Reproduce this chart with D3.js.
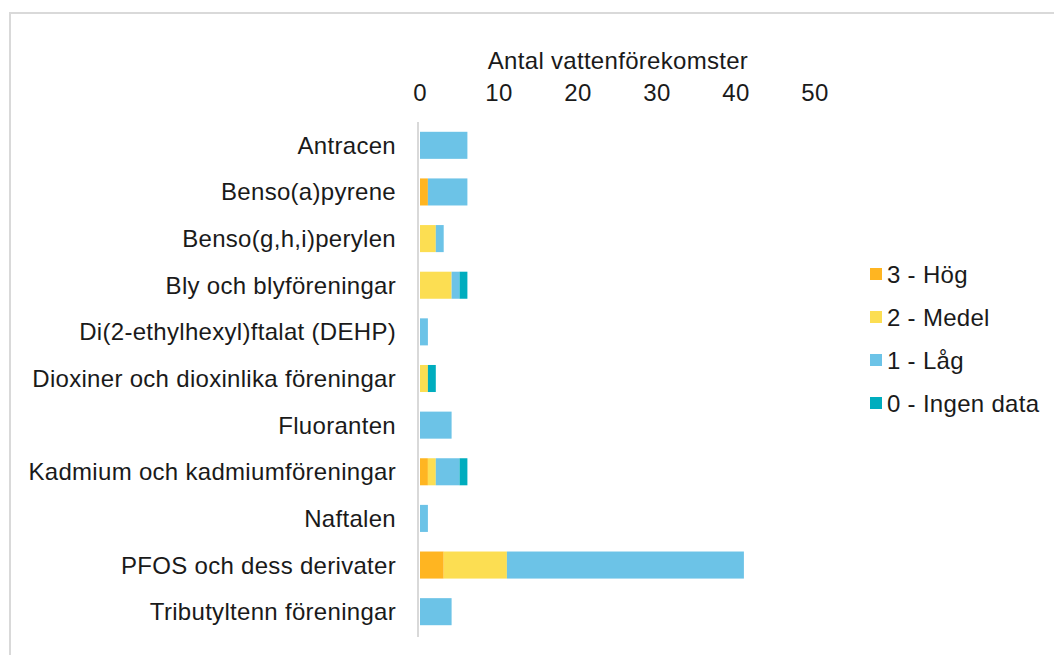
<!DOCTYPE html>
<html>
<head>
<meta charset="utf-8">
<script src="https://cdn.jsdelivr.net/npm/d3@7"></script>
<style>
  body { margin: 0; background: #fff; }
  text { font-family: "Liberation Sans", Arial, sans-serif; fill: #1a1a1a; font-size: 24px; letter-spacing: 0.3px; }
</style>
</head>
<body>
<script>
// kategorier (uppifrån och ned)
var categories = [
  "Antracen",
  "Benso(a)pyrene",
  "Benso(g,h,i)perylen",
  "Bly och blyföreningar",
  "Di(2-ethylhexyl)ftalat (DEHP)",
  "Dioxiner och dioxinlika föreningar",
  "Fluoranten",
  "Kadmium och kadmiumföreningar",
  "Naftalen",
  "PFOS och dess derivater",
  "Tributyltenn föreningar"
];

var seriesNames = ["3 - Hög", "2 - Medel", "1 - Låg", "0 - Ingen data"];
var seriesColors = ["#FFB521", "#FCDE52", "#6CC3E7", "#00ADBE"];

var hog    = [0, 1, 0, 0, 0, 0, 0, 1, 0, 3, 0];
var medel  = [0, 0, 2, 4, 0, 1, 0, 1, 0, 8, 0];
var lag    = [6, 5, 1, 1, 1, 0, 4, 3, 1, 30, 4];
var ingen  = [0, 0, 0, 1, 0, 1, 0, 1, 0, 0, 0];

var xTicks = [0, 10, 20, 30, 40, 50];

var width = 1054, height = 655;

var svg = d3.select("body").append("svg")
  .attr("width", width)
  .attr("height", height);

// ram
svg.append("rect")
  .attr("x", 10).attr("y", 13)
  .attr("width", 1100).attr("height", 700)
  .attr("fill", "none")
  .attr("stroke", "#d9d9d9")
  .attr("stroke-width", 2);

var x = d3.scaleLinear().domain([0, 50]).range([420, 815]);
var y = d3.scaleBand().domain(categories).range([122, 635]).paddingInner(0.42).paddingOuter(0.21);

// stacka data
var table = categories.map(function(c, i) {
  return { name: c, s0: hog[i], s1: medel[i], s2: lag[i], s3: ingen[i] };
});
var stack = d3.stack().keys(["s0", "s1", "s2", "s3"]);
var layers = stack(table);

svg.selectAll("g.layer")
  .data(layers)
  .enter().append("g")
  .attr("class", "layer")
  .attr("fill", function(d, i) { return seriesColors[i]; })
  .selectAll("rect")
  .data(function(d) { return d; })
  .enter().append("rect")
  .filter(function(d) { return d[1] - d[0] > 0; })
  .attr("x", function(d) { return x(d[0]); })
  .attr("width", function(d) { return x(d[1]) - x(d[0]); })
  .attr("y", function(d) { return y(d.data.name); })
  .attr("height", y.bandwidth());

// axellinje
svg.append("line")
  .attr("x1", 418).attr("x2", 418)
  .attr("y1", 122).attr("y2", 637)
  .attr("stroke", "#d9d9d9")
  .attr("stroke-width", 2);

// tick-etiketter
svg.selectAll("text.tick")
  .data(xTicks)
  .enter().append("text")
  .attr("class", "tick")
  .attr("x", function(d) { return x(d); })
  .attr("y", 101)
  .attr("text-anchor", "middle")
  .text(function(d) { return d; });

svg.append("text")
  .attr("x", 618).attr("y", 69)
  .attr("text-anchor", "middle")
  .text("Antal vattenförekomster");

// kategorietiketter
svg.selectAll("text.cat")
  .data(categories)
  .enter().append("text")
  .attr("class", "cat")
  .attr("x", 396)
  .attr("y", function(d) { return y(d) + y.bandwidth() / 2 + 8.5; })
  .attr("text-anchor", "end")
  .text(function(d) { return d; });

// legend
var legend = svg.selectAll("g.legend")
  .data(seriesNames)
  .enter().append("g")
  .attr("class", "legend")
  .attr("transform", function(d, i) { return "translate(870," + (274 + i * 43) + ")"; });

legend.append("rect")
  .attr("x", 0).attr("y", -6)
  .attr("width", 12).attr("height", 12)
  .attr("fill", function(d, i) { return seriesColors[i]; });

legend.append("text")
  .attr("x", 17).attr("y", 8.5)
  .text(function(d) { return d; });
</script>
</body>
</html>
